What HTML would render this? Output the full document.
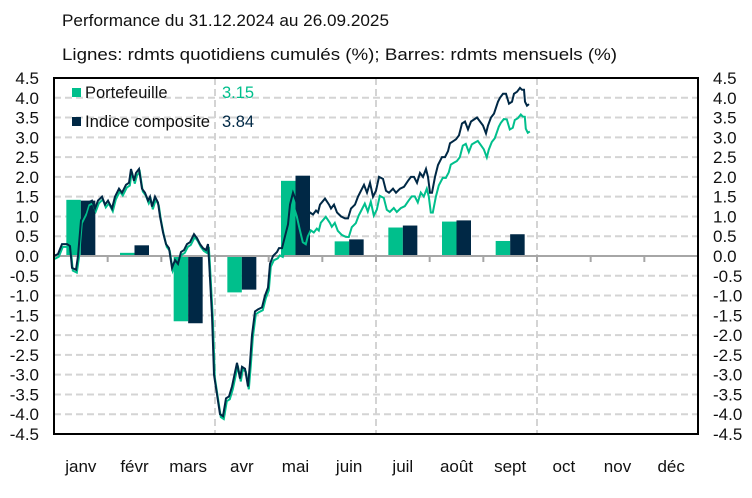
<!DOCTYPE html>
<html><head><meta charset="utf-8"><style>
body{margin:0;background:#fff;}
svg{display:block;font-family:"Liberation Sans",sans-serif;}
</style></head><body>
<svg id="s" width="752" height="498" xmlns="http://www.w3.org/2000/svg">
<text x="62" y="26" font-size="17" fill="#111" textLength="327" lengthAdjust="spacingAndGlyphs">Performance du 31.12.2024 au 26.09.2025</text>
<text x="62" y="60" font-size="17" fill="#111" textLength="555" lengthAdjust="spacingAndGlyphs">Lignes: rdmts quotidiens cumulés (%); Barres: rdmts mensuels (%)</text>
<g id="g"></g>
</svg>
<script>
var g=document.getElementById('g'),h='';
var L=54,R=698,T=78,B=434;
function Y(v){return 256-v*39.56;}
for(var i=-9;i<=9;i++){var y=Y(i/2);
 if(i!=0&&i!=9&&i!=-9)h+='<line x1="'+L+'" x2="'+R+'" y1="'+y+'" y2="'+y+'" stroke="#d4d4d4" stroke-width="2" stroke-dasharray="7,4"/>';
 var t=(i/2).toFixed(1);
 h+='<text x="39" y="'+(y+6)+'" font-size="17" text-anchor="end" fill="#111">'+t+'</text>';
 h+='<text x="713" y="'+(y+6)+'" font-size="17" fill="#111">'+t+'</text>';}
var mw=(R-L)/12;
[3,6,9].forEach(function(k){var x=L+k*mw;h+='<line x1="'+x+'" x2="'+x+'" y1="'+T+'" y2="'+B+'" stroke="#d4d4d4" stroke-width="2" stroke-dasharray="7,4"/>';});
var bp=[1.42,0.08,-1.65,-0.92,1.90,0.37,0.72,0.87,0.38],bn=[1.40,0.27,-1.70,-0.85,2.03,0.42,0.77,0.90,0.55];
for(var m=0;m<9;m++){var c=L+m*mw+mw/2;
 function bar(x,v,col){var y0=Y(0),y1=Y(v);h+='<rect x="'+x+'" y="'+Math.min(y0,y1)+'" width="14.5" height="'+Math.abs(y1-y0)+'" fill="'+col+'"/>';}
 bar(c-14.5,bp[m],'#00bf8c');bar(c,bn[m],'#002845');}
h+='<line x1="'+L+'" x2="'+R+'" y1="256" y2="256" stroke="#a6a6a6" stroke-width="2"/>';
for(var k=0;k<=12;k++){var x=L+k*mw;h+='<line x1="'+x+'" x2="'+x+'" y1="256" y2="262" stroke="#a6a6a6" stroke-width="2"/>';}
var nv=[[54,0],[58,0.05],[62,0.3],[67,0.3],[70,0.25],[72,-0.3],[76,-0.35],[78,0],[81,0.9],[85,1.1],[88,1.35],[92,1.4],[95,1.2],[98,1.4],[102,1.5],[105,1.3],[108,1.4],[112,1.2],[115,1.5],[119,1.7],[122,1.6],[126,1.8],[129,1.85],[131,2.2],[134,1.9],[136,2.1],[139,2.2],[142,1.7],[145,1.6],[148,1.4],[150,1.5],[152,1.25],[155,1.5],[158,1.35],[160,1.0],[163,0.6],[166,0.3],[169,0.2],[172,-0.3],[175,-0.1],[178,-0.2],[181,0.1],[184,0.15],[187,0.3],[190,0.35],[194,0.55],[197,0.45],[200,0.3],[203,0.2],[206,0.15],[208,0.3],[209,-0.1],[212,-1.5],[214,-3.0],[217,-3.5],[220,-4.0],[223,-4.05],[226,-3.6],[229,-3.55],[232,-3.3],[237,-2.7],[240,-3.1],[242,-2.8],[245,-2.85],[248,-3.3],[250,-2.7],[252,-2.0],[255,-1.4],[258,-1.35],[262,-1.3],[265,-1.0],[268,-0.8],[270,-0.2],[273,0],[277,0.1],[279,0.2],[282,0.2],[285,0.5],[288,0.8],[290,1.3],[293,1.6],[296,1.4],[299,1.1],[302,0.8],[305,0.75],[307,0.95],[310,1.1],[313,1.05],[316,1.15],[318,1.1],[320,1.3],[325,1.45],[329,1.3],[331,1.2],[334,1.3],[337,1.1],[341,1.0],[345,0.95],[348,0.95],[351,1.2],[355,1.3],[358,1.5],[361,1.65],[364,1.8],[367,1.6],[370,1.85],[373,1.5],[376,1.65],[379,2.0],[383,1.95],[386,1.65],[389,1.6],[393,1.7],[396,1.6],[400,1.7],[404,1.75],[408,1.9],[411,2.0],[414,2.0],[417,1.85],[420,2.1],[423,2.0],[426,2.2],[428,2.0],[430,1.6],[432,1.6],[435,2.0],[438,2.3],[442,2.5],[445,2.5],[448,2.65],[450,2.85],[453,2.9],[456,2.95],[459,3.05],[462,3.35],[465,3.4],[468,3.2],[471,3.4],[474,3.45],[477,3.5],[480,3.4],[483,3.3],[486,3.1],[488,3.3],[491,3.5],[494,3.6],[498,3.9],[500,4.0],[503,4.1],[506,4.1],[509,3.85],[512,3.9],[514,4.1],[517,4.15],[520,4.25],[522,4.2],[524,4.2],[525,3.9],[527,3.8],[529,3.84]];
function off(x){if(x<270)return -0.07;if(x<300)return -0.07-(x-270)/30*0.38;if(x<430)return -0.45-(x-300)/130*0.05;return -0.5-(x-430)/99*0.19;}
var pn='',pg='';
nv.forEach(function(p){pn+=p[0]+','+Y(p[1]).toFixed(1)+' ';pg+=(p[0]+0.8)+','+Y(p[1]+off(p[0])).toFixed(1)+' ';});
h+='<polyline points="'+pg+'" fill="none" stroke="#00bf8c" stroke-width="2"/>';
h+='<polyline points="'+pn+'" fill="none" stroke="#002845" stroke-width="2"/>';
h+='<rect x="'+L+'" y="'+T+'" width="'+(R-L)+'" height="'+(B-T)+'" fill="none" stroke="#000" stroke-width="2"/>';
var ms=['janv','févr','mars','avr','mai','juin','juil','août','sept','oct','nov','déc'];
ms.forEach(function(s,k){h+='<text x="'+(L+k*mw+mw/2)+'" y="472" font-size="17" text-anchor="middle" fill="#111">'+s+'</text>';});
h+='<rect x="72" y="88" width="9" height="9" fill="#00bf8c"/><text x="85" y="98" font-size="16.5" fill="#111">Portefeuille</text><text x="222" y="98" font-size="16.5" fill="#00bf8c">3.15</text>';
h+='<rect x="72" y="117" width="9" height="9" fill="#002845"/><text x="85" y="127" font-size="16.5" fill="#111" textLength="125" lengthAdjust="spacingAndGlyphs">Indice composite</text><text x="222" y="127" font-size="16.5" fill="#002845">3.84</text>';
g.innerHTML=h;
</script>
</body></html>
